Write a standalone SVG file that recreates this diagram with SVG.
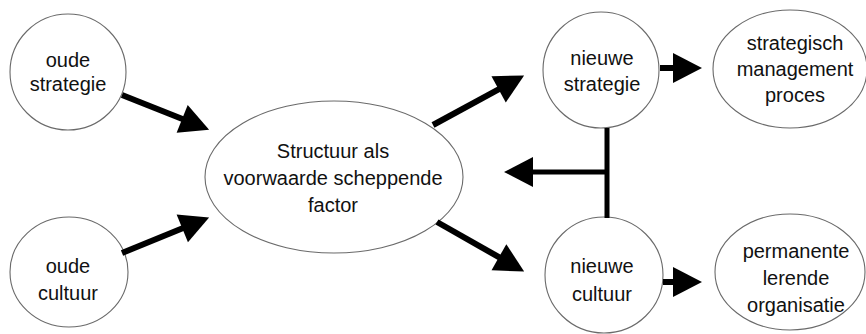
<svg xmlns="http://www.w3.org/2000/svg" width="866" height="334" viewBox="0 0 866 334">
<style>
.node ellipse{fill:#fff;stroke:#6a6a6a;stroke-width:1.1}
.node text{font-family:"Liberation Sans",Arial,sans-serif;font-size:20px;fill:#111;text-anchor:middle}
.conn path{fill:none;stroke:#000;stroke-width:6;marker-end:url(#head)}
</style>
<defs>
<marker id="head" markerUnits="userSpaceOnUse" markerWidth="30" markerHeight="30" refX="1" refY="15" orient="auto" overflow="visible">
<path d="M0,0 L29,15 L0,30 Z" fill="#000"/>
</marker>
</defs>
<rect width="866" height="334" fill="#fff"/>
<g id="oude-strategie" class="node">
<ellipse cx="68" cy="72" rx="58" ry="58"/>
<text x="68" y="67">oude</text>
<text x="68" y="91">strategie</text>
</g>
<g id="oude-cultuur" class="node">
<ellipse cx="69" cy="272" rx="59" ry="55"/>
<text x="68" y="273">oude</text>
<text x="68" y="300">cultuur</text>
</g>
<g id="structuur" class="node">
<ellipse cx="334" cy="177" rx="129" ry="76"/>
<text x="333" y="158">Structuur als</text>
<text x="333" y="185">voorwaarde scheppende</text>
<text x="333" y="212">factor</text>
</g>
<g id="nieuwe-strategie" class="node">
<ellipse cx="601" cy="70" rx="58" ry="58"/>
<text x="602" y="65">nieuwe</text>
<text x="602" y="91">strategie</text>
</g>
<g id="strategisch-management" class="node">
<ellipse cx="790" cy="69" rx="77" ry="59"/>
<text x="795" y="50">strategisch</text>
<text x="795" y="76">management</text>
<text x="795" y="102">proces</text>
</g>
<g id="nieuwe-cultuur" class="node">
<ellipse cx="604" cy="275" rx="59" ry="58"/>
<text x="602" y="273">nieuwe</text>
<text x="602" y="301">cultuur</text>
</g>
<g id="permanente-lerende" class="node">
<ellipse cx="790" cy="272" rx="75" ry="58"/>
<text x="796" y="258">permanente</text>
<text x="796" y="285">lerende</text>
<text x="796" y="312">organisatie</text>
</g>
<g id="connectors" class="conn">
<path d="M122,95 L183.1,119.3"/>
<path d="M122,253 L183.2,228"/>
<path d="M433,125 L499.5,88.9"/>
<path d="M437,222 L499.8,257.7"/>
<path d="M660,68 L674,68"/>
<path d="M663,282 L674,282"/>
<path d="M607,128 L607,218 M607,172 L532,172" style="stroke-width:5"/>
</g>
</svg>
